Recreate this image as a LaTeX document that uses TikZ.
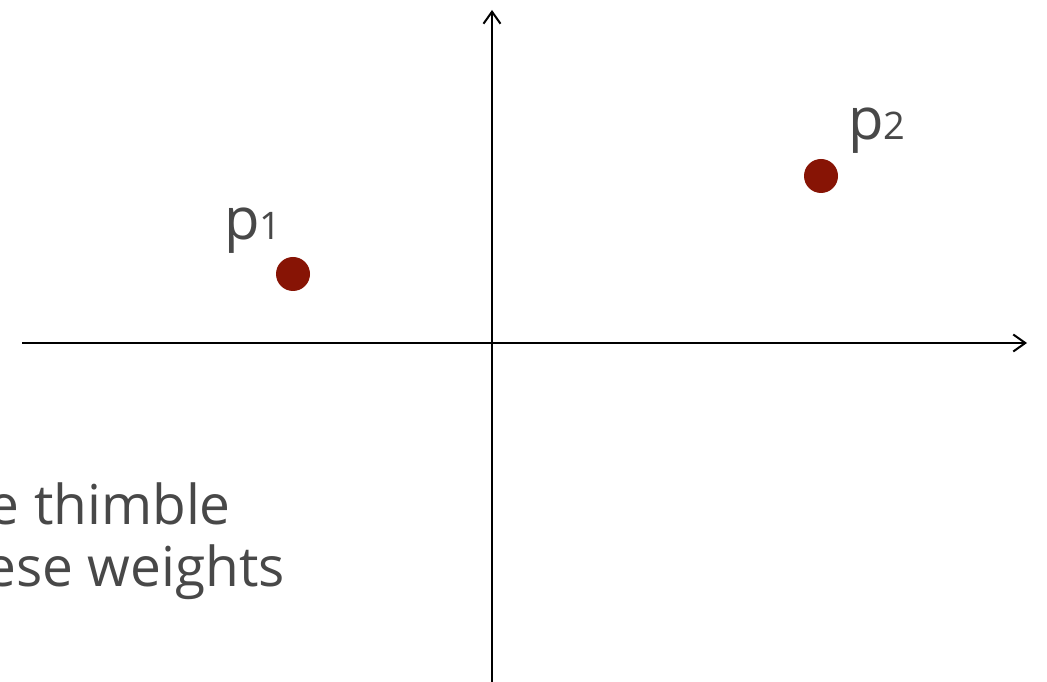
\documentclass[tikz,border=0pt]{standalone}
\usepackage{fontspec}
\setmainfont{Open Sans}
\usepackage{xcolor}
\usetikzlibrary{arrows.meta, positioning, calc}

\definecolor{dotred}{RGB}{135,20,5}
\definecolor{txtgray}{RGB}{72,72,72}

\begin{document}
\begin{tikzpicture}[
    x=1pt, y=1pt,
    axis/.style={draw, line width=2pt, -{Straight Barb[length=12pt, width=17pt, line width=2pt]}},
    dot/.style={circle, fill=dotred, draw=none, minimum size=34pt, inner sep=0pt},
    plabel/.style={text=txtgray, inner sep=0pt, font=\fontsize{58}{60}\selectfont},
    note/.style={text=txtgray, inner sep=0pt, font=\fontsize{55}{62}\selectfont}
]
    \useasboundingbox (0,0) rectangle (1047,682);
    \clip (0,0) rectangle (1047,682);

    % Axes
    \coordinate (xstart) at (22,339);
    \coordinate (xend) at (1027,339);
    \coordinate (ystart) at (492,-5);
    \coordinate (yend) at (492,672);
    \draw[axis] (xstart) -- (xend);
    \draw[axis] (ystart) -- (yend);

    % Points
    \node[dot] (p1) at (293,408) {};
    \node[dot] (p2) at (821,506) {};
    \node[plabel, anchor=base west] (p1lbl) at (224,442) {p{\fontsize{38}{38}\selectfont 1}};
    \node[plabel, anchor=base west] (p2lbl) at (848,542) {p{\fontsize{38}{38}\selectfont 2}};

    % Text
    \node[note, anchor=base east] (line1) at (231,157) {e thimble};
    \node[note, anchor=base east] (line2) at (285,95) {ese weights};

\end{tikzpicture}
\end{document}
